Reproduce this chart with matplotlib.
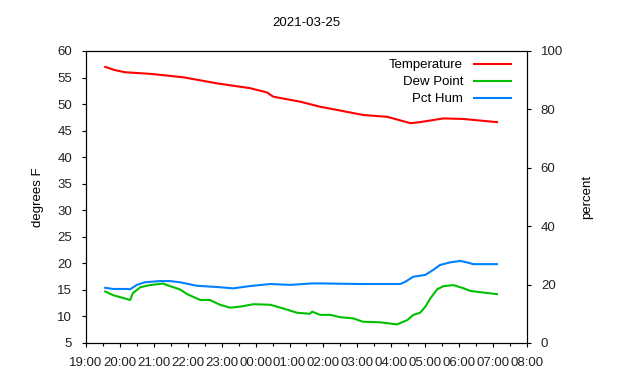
import matplotlib
matplotlib.use("Agg")
import matplotlib.pyplot as plt
import matplotlib.dates as mdates
import pandas as pd

plt.rcParams['font.family'] = ['Liberation Sans', 'DejaVu Sans']
plt.rcParams['font.size'] = 9.5

TITLE = "2021-03-25"
START = "2021-03-24 19:00"
END = "2021-03-25 08:00"

# Temperature (degrees F)
temp_times = ["19:34", "19:51", "20:09", "20:53", "21:52", "22:52", "23:50", "00:20",
              "00:31", "01:19", "01:54", "02:24", "03:10", "03:53", "04:34", "04:51",
              "05:32", "06:07", "06:37", "07:07"]
temp_vals = [57.0, 56.4, 56.0, 55.7, 55.05, 53.9, 53.0, 52.2,
             51.4, 50.45, 49.5, 48.9, 47.95, 47.6, 46.4, 46.6,
             47.3, 47.2, 46.9, 46.6]

# Dew point (degrees F)
dew_times = ["19:34", "19:48", "20:05", "20:18", "20:23", "20:36", "20:53", "21:16",
             "21:29", "21:46", "21:59", "22:22", "22:39", "22:57", "23:15", "23:33",
             "23:56", "00:26", "00:49", "01:13", "01:36", "01:40", "01:54", "02:12",
             "02:30", "02:52", "03:10", "03:40", "04:10", "04:28", "04:39", "04:51",
             "05:00", "05:09", "05:21", "05:32", "05:50", "06:08", "06:20", "06:43",
             "07:07"]
dew_vals = [14.7, 14.0, 13.5, 13.1, 14.4, 15.5, 15.9, 16.2,
            15.7, 15.1, 14.2, 13.1, 13.1, 12.2, 11.65, 11.85,
            12.3, 12.2, 11.5, 10.7, 10.5, 10.9, 10.3, 10.3,
            9.85, 9.65, 9.0, 8.9, 8.5, 9.3, 10.3, 10.7,
            11.8, 13.4, 15.1, 15.7, 15.9, 15.3, 14.8, 14.5,
            14.2]

# Relative humidity (percent)
hum_times = ["19:34", "19:48", "20:13", "20:18", "20:30", "20:44", "21:11", "21:29",
             "21:46", "22:16", "22:57", "23:20", "23:50", "00:26", "01:01", "01:40",
             "01:54", "03:05", "04:16", "04:25", "04:39", "05:00", "05:14", "05:26",
             "05:44", "06:02", "06:14", "06:25", "07:07"]
hum_vals = [18.9, 18.5, 18.5, 18.4, 19.9, 20.8, 21.2, 21.2,
            20.8, 19.6, 19.1, 18.7, 19.5, 20.2, 19.9, 20.4,
            20.4, 20.2, 20.2, 21.0, 22.7, 23.3, 25.0, 26.7,
            27.6, 28.1, 27.6, 27.0, 27.0]


def to_datetimes(times):
    # times before noon belong to the next day
    out = []
    for t in times:
        day = "2021-03-24" if int(t[:2]) >= 12 else "2021-03-25"
        out.append(pd.Timestamp(f"{day} {t}"))
    return out


fig = plt.figure(figsize=(6.4, 3.8), dpi=100)
ax = fig.add_axes([0.1344, 0.0974, 0.689, 0.7684])
ax2 = ax.twinx()

l1, = ax.plot(to_datetimes(temp_times), temp_vals, color="#ff0000", lw=1.5, label="Temperature")
l2, = ax.plot(to_datetimes(dew_times), dew_vals, color="#00c000", lw=1.5, label="Dew Point")
l3, = ax2.plot(to_datetimes(hum_times), hum_vals, color="#0080ff", lw=1.5, label="Pct Hum")

ax.set_xlim(pd.Timestamp(START), pd.Timestamp(END))
ax.set_ylim(5, 60)
ax.set_yticks(range(5, 61, 5))
ax2.set_ylim(0, 100)
ax2.set_yticks(range(0, 101, 20))

ax.xaxis.set_major_locator(mdates.HourLocator())
ax.xaxis.set_minor_locator(mdates.MinuteLocator(byminute=[30]))
ax.xaxis.set_major_formatter(mdates.DateFormatter("%H:%M"))

ax.tick_params(axis="both", which="major", direction="out", length=3, width=0.8, pad=7,
               top=False, right=False, colors="black", labelcolor="#222222")
ax.tick_params(axis="x", which="minor", direction="out", length=1.8, width=0.8)
ax2.tick_params(axis="y", direction="out", length=3, width=0.8, pad=7, labelcolor="#222222")

for a in (ax, ax2):
    for s in a.spines.values():
        s.set_linewidth(0.8)

ax.set_ylabel("degrees F", labelpad=9.5)
ax2.set_ylabel("percent", labelpad=13)
ax.set_title(TITLE, pad=18, fontsize=9.5)

leg = ax.legend(handles=[l1, l2, l3], loc="upper right", bbox_to_anchor=(0.975, 0.99),
                frameon=False, markerfirst=False, borderaxespad=0,
                handlelength=2.8, labelspacing=0.35, handletextpad=0.8)

fig.savefig("out.png", dpi=100)
